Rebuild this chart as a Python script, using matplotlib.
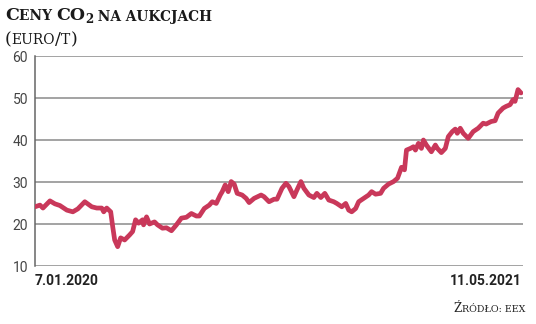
import matplotlib
matplotlib.use("Agg")
import matplotlib.pyplot as plt
import numpy as np
import pandas as pd

# ---- data ----
start_date = "2020-01-07"
end_date = "2021-05-11"
day_offsets = [0, 5, 8, 15, 20, 25, 32, 38, 43, 50, 57, 62, 67, 69, 72, 76, 78, 80, 83,
               86, 90, 95, 98, 101, 104, 108, 109, 112, 115, 120, 123, 128, 132, 137,
               142, 147, 152, 157, 162, 165, 170, 175, 178, 182, 186, 188, 191, 194, 197,
               200, 203, 208, 212, 215, 220, 227, 230, 235, 240, 243, 248, 252, 255, 260,
               263, 267, 270, 275, 280, 283, 287, 291, 295, 300, 303, 308, 312, 315, 318,
               322, 325, 330, 335, 338, 342, 347, 350, 355, 360, 364, 368, 371, 373, 377,
               380, 382, 385, 388, 390, 393, 398, 402, 404, 408, 412, 415, 419, 422, 424,
               427, 430, 435, 440, 445, 450, 453, 458, 462, 465, 470, 473, 477, 480, 482,
               485, 488]
prices = [24.1, 24.5, 23.8, 25.5, 24.8, 24.4, 23.3, 22.9, 23.6, 25.3, 24.1, 23.8, 23.8, 22.9,
          23.8, 22.9, 19.4, 16.2, 14.6, 16.7, 16.2, 17.4, 18.2, 21.0, 20.2, 21.0, 19.8, 21.7,
          20.0, 20.5, 19.8, 19.0, 19.1, 18.4, 19.8, 21.4, 21.6, 22.5, 21.9, 21.9, 23.7, 24.5,
          25.3, 24.9, 26.9, 27.7, 29.3, 27.7, 30.1, 29.5, 27.3, 26.9, 26.1, 25.1, 26.1, 26.9,
          26.5, 25.3, 25.9, 25.9, 28.5, 29.7, 28.9, 26.5, 28.1, 30.1, 28.5, 26.9, 26.3, 27.3,
          26.3, 27.3, 25.7, 25.3, 24.9, 24.1, 24.9, 23.3, 22.9, 23.7, 25.3, 26.1, 26.9, 27.7,
          27.1, 27.3, 28.5, 29.5, 30.1, 30.9, 33.5, 32.9, 37.6, 38.0, 38.4, 37.6, 39.2, 38.0,
          40.0, 38.8, 37.2, 38.8, 38.0, 37.0, 38.0, 40.8, 42.0, 42.6, 41.6, 42.8, 41.6, 40.4,
          42.0, 42.8, 44.0, 43.8, 44.4, 44.6, 46.4, 47.6, 48.0, 48.4, 49.6, 49.2, 52.0, 51.2]
y_ticks = [10, 20, 30, 40, 50, 60]
start_label = "7.01.2020"
end_label = "11.05.2021"

dates = pd.Timestamp(start_date) + pd.to_timedelta(day_offsets, unit="D")

W, H = 536, 324
fig = plt.figure(figsize=(W / 100, H / 100), dpi=100)
fig.patch.set_facecolor("white")

ax = fig.add_axes([35 / W, 1 - 266 / H, (523 - 35) / W, (266 - 56) / H])
ax.plot(dates, prices, color="#c9385a", lw=3.4, solid_joinstyle="round",
        solid_capstyle="round", zorder=3)
ax.set_xlim(pd.Timestamp(start_date), pd.Timestamp(end_date))
ax.set_ylim(10, 60)
ax.set_yticks(y_ticks)
for v in y_ticks:
    ax.axhline(v, color="#8a8a8a", lw=1.1, zorder=1)
ax.set_xticks([])
for s in ["top", "right", "bottom"]:
    ax.spines[s].set_visible(False)
ax.spines["left"].set_color("#666666")
ax.spines["left"].set_linewidth(1.1)
ax.tick_params(axis="y", length=0, pad=5, labelsize=10, labelcolor="#444444")
for lab in ax.get_yticklabels():
    lab.set_fontfamily("Roboto")

# date labels
fig.text(35 / W, 1 - 285 / H, start_label, ha="left", va="baseline",
         fontsize=10, fontfamily="Roboto", fontweight="bold", color="#222222")
fig.text(522 / W, 1 - 285 / H, end_label, ha="right", va="baseline",
         fontsize=10, fontfamily="Roboto", fontweight="bold", color="#222222")

renderer = fig.canvas.get_renderer()


def seq_text(x_px, base_px, pieces, family="DejaVu Serif", color="#222222"):
    x = x_px
    for txt, size, weight, dy, kern in pieces:
        x += kern
        t = fig.text(x / W, 1 - (base_px - dy) / H, txt, ha="left", va="baseline",
                     fontsize=size, fontweight=weight, fontfamily=family, color=color)
        bb = t.get_window_extent(renderer)
        x += bb.width
    return x


def width_of(pieces, family="DejaVu Serif"):
    total = 0
    for txt, size, weight, dy, kern in pieces:
        t = fig.text(0, 0, txt, fontsize=size, fontweight=weight, fontfamily=family)
        total += t.get_window_extent(renderer).width + kern
        t.remove()
    return total


big, small = 12.5, 9.9
title_pieces = [("C", big, "bold", 0, 0), ("ENY ", small, "bold", 0, 0),
                ("CO", big, "bold", 0, 0), ("2", 8.5, "bold", -2.5, -0.8),
                (" NA AUKCJACH", small, "bold", 0, 0)]
seq_text(5, 20.5, title_pieces, color="#1a1a1a")

unit_pieces = [("(", 12.5, "normal", 0, 0), ("EURO", 10, "normal", 0, 0),
               ("/", 12.5, "normal", 0, 0), ("T", 10, "normal", 0, 0),
               (")", 12.5, "normal", 0, 0)]
seq_text(5, 44.5, unit_pieces, color="#1a1a1a")

src_pieces = [("Ź", 8.5, "normal", 0, 0), ("RÓDŁO: EEX", 6.8, "normal", 0, 0)]
wsrc = width_of(src_pieces)
seq_text(525 - wsrc, 312, src_pieces, color="#222222")

fig.savefig("out.png", dpi=100)
